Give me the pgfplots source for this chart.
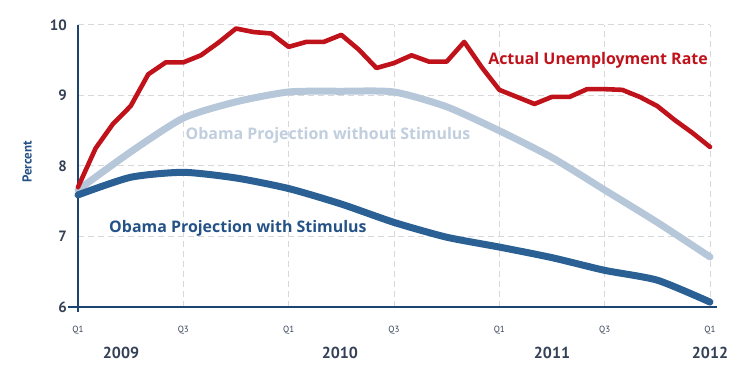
\documentclass[border=0pt]{standalone}
\usepackage{pgfplots}
\pgfplotsset{compat=1.18}
\usepackage{fontspec}
\setmainfont{PT Sans}
\newfontfamily\annot{Open Sans}
\definecolor{redc}{RGB}{192,18,26}
\definecolor{lightc}{RGB}{182,199,218}
\definecolor{lighttext}{RGB}{192,206,222}
\definecolor{darkc}{RGB}{42,96,148}
\definecolor{darktext}{RGB}{36,82,134}
\definecolor{axisc}{RGB}{28,68,112}
\definecolor{tickc}{RGB}{52,64,86}
\definecolor{gridc}{RGB}{214,216,220}
\begin{document}
\begin{tikzpicture}
\useasboundingbox (-78bp,-66bp) rectangle (672bp,307bp);
\begin{axis}[
  scale only axis, width=632bp, height=282bp,
  xmin=0, xmax=36, ymin=6, ymax=10,
  clip=false,
  axis lines=left,
  axis line style={-, draw=axisc, line width=2.6bp},
  x axis line style={shorten <=-10bp, shorten >=-7bp},
  y axis line style={shorten <=-5bp},
  xtick={0,6,12,18,24,30,36},
  xticklabels={Q1,Q3,Q1,Q3,Q1,Q3,Q1},
  ytick={6,7,8,9,10},
  major tick length=0pt,
  grid=major,
  major grid style={draw=gridc, line width=1bp, dash pattern=on 6bp off 4bp},
  /pgf/number format/assume math mode=true,
  yticklabel style={font=\bfseries\fontsize{15}{15}\selectfont, text=tickc, anchor=east, inner sep=0pt, xshift=-11bp},
  xticklabel style={font=\fontsize{9}{9}\selectfont, text=tickc, anchor=center, inner sep=0pt, yshift=-23bp},
]
\addplot[lightc, line width=7bp, smooth, tension=0.4, line cap=round, line join=round] coordinates {
(0,7.66) (3,8.20) (6,8.68) (9,8.91) (12,9.05) (15,9.06) (18,9.05) (21,8.84) (24,8.50) (27,8.12) (30,7.66) (33,7.20) (36,6.71)
};
\addplot[redc, line width=4.6bp, line cap=round, line join=round] coordinates {
(0,7.70) (1,8.25) (2,8.60) (3,8.85) (4,9.30) (5,9.47) (6,9.47) (7,9.57) (8,9.75) (9,9.95)
(10,9.90) (11,9.88) (12,9.69) (13,9.76) (14,9.76) (15,9.86) (16,9.65) (17,9.39) (18,9.46) (19,9.57)
(20,9.48) (21,9.48) (22,9.76) (23,9.40) (24,9.08) (25,8.98) (26,8.88) (27,8.98) (28,8.98) (29,9.09)
(30,9.09) (31,9.08) (32,8.98) (33,8.85) (34,8.65) (35,8.47) (36,8.27)
};
\addplot[darkc, line width=7bp, smooth, tension=0.4, line cap=round, line join=round] coordinates {
(0,7.59) (3,7.84) (6,7.91) (9,7.83) (12,7.68) (15,7.46) (18,7.20) (21,6.99) (24,6.85) (27,6.70) (30,6.52) (33,6.38) (36,6.07)
};
\node[font=\annot\bfseries\fontsize{16}{16}\selectfont, text=redc] at (axis cs:29.62,9.50) {Actual Unemployment Rate};
\node[font=\annot\bfseries\fontsize{16}{16}\selectfont, text=lighttext] at (axis cs:14.24,8.44) {Obama Projection without Stimulus};
\node[font=\annot\bfseries\fontsize{16}{16}\selectfont, text=darktext] at (axis cs:9.11,7.12) {Obama Projection with Stimulus};
\node[font=\bfseries\fontsize{16}{16}\selectfont, text=tickc] at (axis cs:2.45,5.35) {2009};
\node[font=\bfseries\fontsize{16}{16}\selectfont, text=tickc] at (axis cs:14.92,5.35) {2010};
\node[font=\bfseries\fontsize{16}{16}\selectfont, text=tickc] at (axis cs:27.0,5.35) {2011};
\node[font=\bfseries\fontsize{16}{16}\selectfont, text=tickc] at (axis cs:36,5.35) {2012};
\node[font=\bfseries\fontsize{13}{13}\selectfont, text=darktext, rotate=90] at (axis cs:-2.9,8.06) {Percent};
\end{axis}
\end{tikzpicture}
\end{document}
